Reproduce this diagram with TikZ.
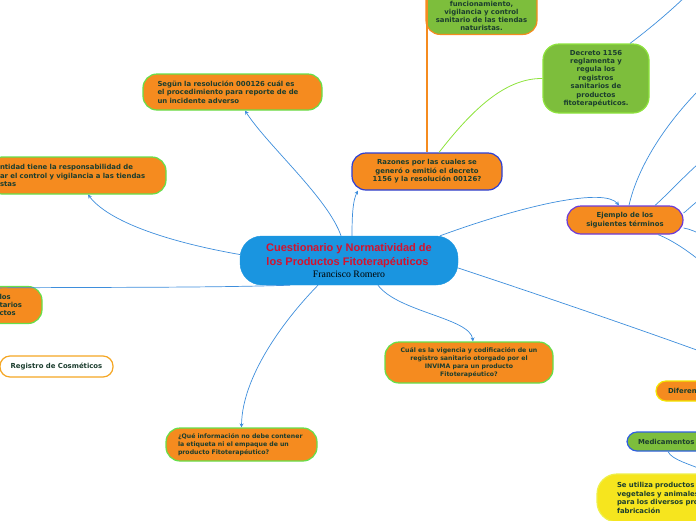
\documentclass[tikz,border=0pt]{standalone}
\usepackage{xcolor}
\usepackage{fontspec}
\usepackage{tikz}
\usetikzlibrary{arrows.meta,positioning}

\newfontfamily\mapfont{DejaVu Sans}
\newfontfamily\titlefont{Liberation Sans}
\newfontfamily\authorfont{Liberation Serif}

\definecolor{topicorange}{HTML}{F58B1F}
\definecolor{topictext}{HTML}{1B3D2E}
\definecolor{edgegreen}{HTML}{66E04A}
\definecolor{leafgreen}{HTML}{7DBE3C}
\definecolor{rootblue}{HTML}{1A95E0}
\definecolor{titlered}{HTML}{D4122E}
\definecolor{connblue}{HTML}{3E8EDC}
\definecolor{branchgreen}{HTML}{8EE33C}
\definecolor{noteyellow}{HTML}{F6E51E}
\definecolor{noteline}{HTML}{EEF04A}
\definecolor{razonesline}{HTML}{2B3FD6}
\definecolor{ejemploline}{HTML}{6B3BD9}
\definecolor{cosmline}{HTML}{F5A623}
\definecolor{diferenline}{HTML}{F2E600}
\definecolor{medicline}{HTML}{3060E0}

\begin{document}
\begin{tikzpicture}[
  x=1pt, y=-1pt,
  topic/.style={draw=edgegreen, line width=1.2pt, fill=topicorange, rounded corners=14pt, inner sep=0pt, align=center, text=topictext, font=\mapfont\bfseries\fontsize{6.9}{8.4}\selectfont},
  small/.style={font=\mapfont\bfseries\fontsize{6.2}{8.2}\selectfont},
  leaf/.style={topic, fill=leafgreen, draw=branchgreen},
  root/.style={fill=rootblue, draw=rootblue, rounded corners=22pt, inner sep=0pt, align=center, minimum width=218pt, minimum height=49pt, font=\titlefont\bfseries\fontsize{11}{13.8}\selectfont},
  conn/.style={connblue, line width=0.7pt},
  arrow/.style={conn, -{Stealth[length=4pt, width=4pt]}}
]
\useasboundingbox (0,0) rectangle (696,520);
\clip (0,0) rectangle (696,520);

\node[root] (root) at (349,260.5) {{\color{titlered}Cuestionario y Normatividad de}\\{\color{titlered}los Productos Fitoterapéuticos\ }\\[-1.8pt]{\authorfont\mdseries\fontsize{9.8}{11}\selectfont Francisco Romero}};

\node[leaf, draw=topicorange, minimum width=111pt, minimum height=100pt, anchor=south] (tiendas) at (481.5,35) {};
\node[inner sep=0pt, align=center, text=topictext, font=\mapfont\bfseries\fontsize{6.9}{8.1}\selectfont, anchor=south, yshift=4pt] (tiendastxt) at (tiendas.south) {funcionamiento,\\vigilancia y control\\sanitario de las tiendas\\naturistas.};
\node[leaf, rounded corners=16pt, minimum width=106pt, minimum height=69pt] (decreto) at (596,78.5) {Decreto 1156\\reglamenta y\\regula los\\registros\\sanitarios de\\productos\\fitoterapéuticos.};

\node[topic, minimum width=179pt, minimum height=36pt, text width=150pt, align=left] (segun) at (232.5,92) {Segün la resolución 000126 cuál es\\el procedimiento para reporte de de\\un incidente adverso};
\node[topic, minimum width=178pt, minimum height=37pt, text width=154pt, align=left] (entidad) at (77,175.5) {ntidad tiene la responsabilidad de\\ar el control y vigilancia a las tiendas\\stas};
\node[topic, draw=razonesline, minimum width=150pt, minimum height=37pt] (razones) at (427,171.5) {Razones por las cuales se\\generó o emitió el decreto\\1156 y la resolución 00126?};
\node[topic, draw=ejemploline, minimum width=116pt, minimum height=28pt] (ejemplo) at (625,220) {Ejemplo de los\\siguientes términos};
\node[topic, minimum width=62pt, minimum height=37pt, text width=23pt, align=left] (registros) at (11,305) {los\\tarios\\ctos};
\node[topic, fill=white, draw=cosmline, rounded corners=10pt, minimum width=113pt, minimum height=21pt] (cosmeticos) at (56.5,366.5) {Registro de Cosméticos};
\node[topic, small, minimum width=168pt, minimum height=41pt] (cual) at (469,362.5) {Cuál es la vigencia y codificación de un\\registro sanitario otorgado por el\\INVIMA para un producto\\Fitoterapéutico?};
\node[topic, small, minimum width=151pt, minimum height=33pt, text width=127pt, align=left] (que) at (241.5,444.5) {¿Qué información no debe contener\\la etiqueta ni el empaque de un\\producto Fitoterapéutico?};
\node[topic, draw=diferenline, rounded corners=10pt, minimum width=80pt, minimum height=20pt, text width=56pt, align=left] (diferen) at (696,391) {Diferen};
\node[leaf, draw=medicline, rounded corners=10pt, minimum width=82pt, minimum height=19pt, text width=60pt, align=left] (medic) at (668,441.5) {Medicamentos};
\node[topic, fill=noteyellow, draw=noteline, rounded corners=20pt, minimum width=170pt, minimum height=48pt, text width=130pt, align=left] (utiliza) at (682,498) {Se utiliza productos\\vegetales y animales\\para los diversos procesos\\fabricación};

\coordinate (offleft) at (-10,288);
\coordinate (offright) at (705,353);
\coordinate (offtop) at (427,-10);
\coordinate (offa) at (705,84);
\coordinate (offb) at (705,158);
\coordinate (offc) at (705,196);
\coordinate (offd) at (705,236);
\coordinate (offe) at (705,265);
\coordinate (offf) at (690,-8);
\coordinate (offg) at (705,471);

\draw[arrow] ([xshift=-8pt]root.north) .. controls (328,198) and (268,146) .. ([xshift=12.5pt]segun.south);
\draw[arrow] ([yshift=6pt]root.west) .. controls (185,245) and (112,226) .. ([xshift=11pt]entidad.south);
\draw[arrow] ([xshift=3pt]root.north) .. controls (352,214) and (353,200) .. ([xshift=-69pt]razones.south);
\draw[arrow] ([xshift=91pt]root.north) .. controls (530,203) and (605,188) .. ([xshift=-6pt]ejemplo.north);
\draw[arrow] ([xshift=29pt]root.south) .. controls (398,312) and (470,318) .. ([xshift=4pt]cual.north);
\draw[arrow] ([xshift=-31pt]root.south) .. controls (282,322) and (242,378) .. (que.north);
\draw[conn] ([xshift=-59pt]root.south) .. controls (200,288) and (90,287) .. (offleft);
\draw[conn] ([yshift=-7.5pt]root.east) .. controls (555,300) and (650,333) .. (offright);
\draw[topicorange, line width=1.2pt] (razones.north) -- (offtop);
\draw[branchgreen, line width=0.8pt] ([xshift=12pt]razones.north) .. controls (472,110) and (505,78) .. (decreto.west);
\draw[conn] ([xshift=4pt]ejemplo.north) .. controls (638,165) and (668,120) .. (offa);
\draw[conn] ([xshift=30pt]ejemplo.north) .. controls (670,192) and (688,172) .. (offb);
\draw[conn] ([yshift=7pt]ejemplo.east) .. controls (690,208) and (694,203) .. (offc);
\draw[conn] ([yshift=-8pt]ejemplo.east) .. controls (690,229) and (696,232) .. (offd);
\draw[conn] ([xshift=33pt]ejemplo.south) .. controls (672,240) and (690,252) .. (offe);
\draw[conn] ([xshift=34pt]decreto.north) .. controls (648,30) and (672,10) .. (offf);
\draw[conn] (medic.south) .. controls (672,460) and (690,464) .. (offg);
\end{tikzpicture}
\end{document}
